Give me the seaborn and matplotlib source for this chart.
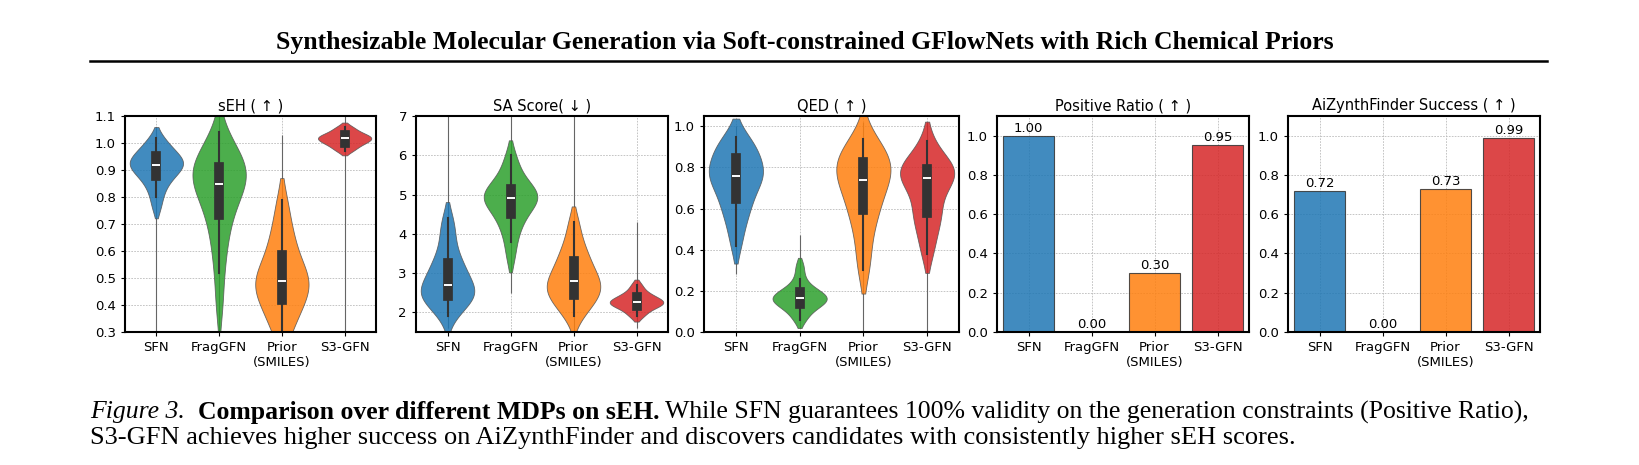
import numpy as np
import pandas as pd
import matplotlib
matplotlib.use("Agg")
import matplotlib.pyplot as plt
import seaborn as sns

methods = ["SFN", "FragGFN", "Prior\n(SMILES)", "S3-GFN"]
colors = ["#1f77b4", "#2ca02c", "#ff7f0e", "#d62728"]

# violin samples
seh = {
    "SFN": [0.76, 0.80, 0.83, 0.85, 0.87, 0.88, 0.89, 0.90, 0.91, 0.92, 0.92, 0.93, 0.93, 0.94, 0.95, 0.96, 0.97, 0.98, 1.00, 1.02],
    "FragGFN": [0.40, 0.52, 0.60, 0.66, 0.71, 0.74, 0.78, 0.81, 0.83, 0.84, 0.86, 0.88, 0.89, 0.90, 0.91, 0.92, 0.94, 0.96, 0.99, 1.04],
    "Prior\n(SMILES)": [0.28, 0.33, 0.36, 0.39, 0.41, 0.43, 0.45, 0.47, 0.48, 0.49, 0.50, 0.52, 0.54, 0.57, 0.60, 0.63, 0.67, 0.72, 0.79],
    "S3-GFN": [0.97, 0.98, 0.99, 1.00, 1.00, 1.01, 1.01, 1.02, 1.02, 1.02, 1.03, 1.03, 1.04, 1.05, 1.06],
}
seh_range = [(0.3, 1.06), (0.3, 1.1), (0.3, 1.03), (0.3, 1.1)]

sa = {
    "SFN": [1.9, 2.1, 2.25, 2.35, 2.4, 2.45, 2.5, 2.55, 2.6, 2.7, 2.85, 2.95, 3.05, 3.2, 3.3, 3.5, 3.8, 4.1, 4.4],
    "FragGFN": [3.4, 3.8, 4.1, 4.3, 4.4, 4.6, 4.7, 4.8, 4.85, 4.9, 4.95, 5.0, 5.05, 5.1, 5.2, 5.3, 5.5, 5.7, 6.0],
    "Prior\n(SMILES)": [1.9, 2.1, 2.25, 2.4, 2.45, 2.55, 2.6, 2.7, 2.8, 2.9, 3.0, 3.1, 3.3, 3.45, 3.6, 3.9, 4.3],
    "S3-GFN": [1.9, 2.0, 2.1, 2.15, 2.2, 2.22, 2.25, 2.27, 2.3, 2.35, 2.4, 2.45, 2.55, 2.7],
}
sa_range = [(1.6, 7.0), (2.5, 7.0), (1.5, 7.0), (1.6, 4.3)]

qed = {
    "SFN": [0.42, 0.50, 0.56, 0.60, 0.63, 0.66, 0.70, 0.73, 0.75, 0.76, 0.77, 0.78, 0.80, 0.83, 0.86, 0.88, 0.90, 0.92, 0.95],
    "FragGFN": [0.06, 0.09, 0.12, 0.13, 0.14, 0.15, 0.16, 0.165, 0.17, 0.18, 0.19, 0.20, 0.22, 0.26, 0.32],
    "Prior\n(SMILES)": [0.30, 0.40, 0.50, 0.57, 0.60, 0.65, 0.70, 0.73, 0.75, 0.78, 0.80, 0.82, 0.84, 0.87, 0.90, 0.94],
    "S3-GFN": [0.38, 0.45, 0.52, 0.56, 0.58, 0.62, 0.68, 0.72, 0.75, 0.76, 0.77, 0.78, 0.79, 0.80, 0.82, 0.86, 0.93],
}
qed_range = [(0.28, 1.0), (0.02, 0.47), (0.0, 1.02), (0.0, 1.02)]

positive_ratio = [1.00, 0.00, 0.30, 0.95]
aizynth = [0.72, 0.00, 0.73, 0.99]

W, H = 1639, 465
fig = plt.figure(figsize=(W / 100, H / 100), dpi=100)
plt.rcParams["font.size"] = 10

def px_axes(x0, x1, y0=116, y1=332):
    return fig.add_axes([x0 / W, 1 - y1 / H, (x1 - x0) / W, (y1 - y0) / H])

def style(ax, title):
    ax.set_title(title, fontsize=10.5, pad=4)
    ax.grid(True, linestyle=(0, (2, 1.5)), linewidth=0.6, color="#bbbbbb")
    ax.set_axisbelow(True)
    for s in ax.spines.values():
        s.set_linewidth(1.5)
    ax.set_xlabel("")
    ax.set_ylabel("")
    ax.tick_params(labelsize=9.5, length=3)

def violin(ax, data, ranges, ylim, title):
    df = pd.DataFrame([(m, v) for m in methods for v in data[m]], columns=["method", "value"])
    for i, (lo, hi) in enumerate(ranges):
        ax.vlines(i, lo, hi, color="#666666", linewidth=0.8, zorder=1)
    sns.violinplot(data=df, x="method", y="value", hue="method", palette=colors, order=methods,
                   cut=1.2, bw_adjust=0.9, inner="box", linewidth=0.6, linecolor="#555555",
                   width=0.85, saturation=1, alpha=0.85, legend=False, ax=ax,
                   inner_kws=dict(box_width=7, whis_width=1.5, color="#333333"))
    ax.set_ylim(*ylim)
    style(ax, title)

def bars(ax, vals, title):
    df = pd.DataFrame({"method": methods, "value": vals})
    sns.barplot(data=df, x="method", y="value", hue="method", palette=colors, order=methods,
                saturation=1, alpha=0.85, edgecolor="#333333", linewidth=0.8, legend=False, ax=ax)
    for i, v in enumerate(vals):
        ax.text(i, v + 0.005, f"{v:.2f}", ha="center", va="bottom", fontsize=9.5)
    ax.set_ylim(0, 1.1)
    ax.set_yticks([0, 0.2, 0.4, 0.6, 0.8, 1.0])
    style(ax, title)

ax1 = px_axes(125, 376)
violin(ax1, seh, seh_range, (0.3, 1.1), "sEH ( ↑ )")
ax1.set_yticks(np.arange(0.3, 1.11, 0.1))
ax2 = px_axes(416, 668)
violin(ax2, sa, sa_range, (1.5, 7), "SA Score( ↓ )")
ax3 = px_axes(704, 959)
violin(ax3, qed, qed_range, (0, 1.05), "QED ( ↑ )")
ax4 = px_axes(997, 1249)
bars(ax4, positive_ratio, "Positive Ratio ( ↑ )")
ax5 = px_axes(1288, 1540)
bars(ax5, aizynth, "AiZynthFinder Success ( ↑ )")

serif = "Liberation Serif"
fig.text(805 / W, 1 - 42 / H, "Synthesizable Molecular Generation via Soft-constrained GFlowNets with Rich Chemical Priors",
         ha="center", va="center", fontsize=18.5, fontweight="bold", family=serif)
fig.add_artist(plt.Line2D([90 / W, 1547 / W], [1 - 61 / H, 1 - 61 / H], color="black", linewidth=1.8))

# caption line 1 built from pieces placed one after another
renderer = fig.canvas.get_renderer()
x = 90 / W
cap_y = 1 - 412 / H
for txt, kw in [("Figure 3.  ", dict(style="italic")),
                ("Comparison over different MDPs on sEH.", dict(fontweight="bold")),
                (" While SFN guarantees 100% validity on the generation constraints (Positive Ratio),", {})]:
    t = fig.text(x, cap_y, txt, fontsize=18.5, family=serif, va="center", **kw)
    x += t.get_window_extent(renderer).width / W
fig.text(90 / W, 1 - 438 / H, "S3-GFN achieves higher success on AiZynthFinder and discovers candidates with consistently higher sEH scores.",
         fontsize=19, family=serif, va="center")

fig.savefig("out.png", dpi=100)
